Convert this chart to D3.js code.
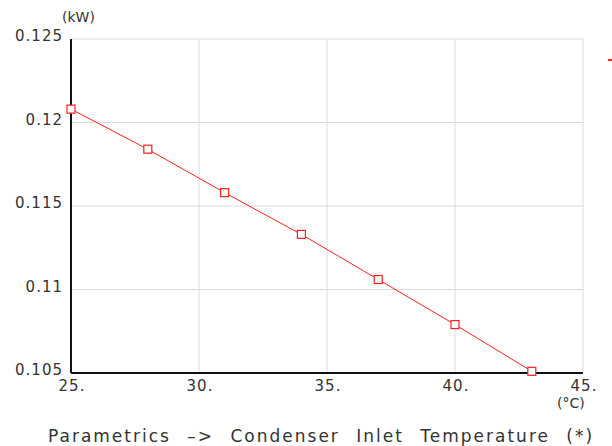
<!DOCTYPE html>
<html>
<head>
<meta charset="utf-8">
<script src="https://cdn.jsdelivr.net/npm/d3@7"></script>
<style>
  body { margin: 0; background: #fff; }
  text { font-family: "DejaVu Sans", sans-serif; fill: #333; }
</style>
</head>
<body>
<div id="chart"></div>
<script>
// condenser inlet temperature (°C) vs power (kW)
const temps = [25, 28, 31, 34, 37, 40, 43];
const power = [0.1208, 0.1184, 0.1158, 0.1133, 0.1106, 0.1079, 0.1051];
const xTicks = [25, 30, 35, 40, 45];
const yTicks = [0.105, 0.11, 0.115, 0.12, 0.125];

const W = 612, H = 446;
const margin = {top: 39, right: 29, bottom: 73, left: 71};
const width = W - margin.left - margin.right,
    height = H - margin.top - margin.bottom;

var svg = d3.select("#chart").append("svg")
    .attr("width", W)
    .attr("height", H);

var g = svg.append("g").attr("transform", "translate(" + margin.left + "," + margin.top + ")");

var x = d3.scaleLinear().domain([25, 45]).range([0, width]);
var y = d3.scaleLinear().domain([0.105, 0.125]).range([height, 0]);

// grid
g.selectAll(".vgrid").data(xTicks.slice(1))
  .enter().append("line")
    .attr("x1", d => x(d)).attr("x2", d => x(d))
    .attr("y1", 0).attr("y2", height)
    .attr("stroke", "#dcdcdc").attr("stroke-width", 1);
g.selectAll(".hgrid").data(yTicks.slice(1))
  .enter().append("line")
    .attr("x1", 0).attr("x2", width)
    .attr("y1", d => y(d)).attr("y2", d => y(d))
    .attr("stroke", "#dcdcdc").attr("stroke-width", 1);

// axes lines
g.append("line").attr("x1", 0).attr("x2", 0).attr("y1", 0).attr("y2", height)
  .attr("stroke", "#111").attr("stroke-width", 2);
g.append("line").attr("x1", 0).attr("x2", width).attr("y1", height).attr("y2", height)
  .attr("stroke", "#111").attr("stroke-width", 2);

// tick labels
g.selectAll(".ylab").data(yTicks)
  .enter().append("text")
    .attr("x", -8)
    .attr("y", d => y(d) + 2)
    .attr("text-anchor", "end")
    .style("font-size", "15px")
    .style("letter-spacing", "1px")
    .text(d => d3.format(".3~f")(d));
g.selectAll(".xlab").data(xTicks)
  .enter().append("text")
    .attr("x", d => x(d) + 1)
    .attr("y", height + 18)
    .attr("text-anchor", "middle")
    .style("font-size", "15px")
    .style("letter-spacing", "1px")
    .text(d => d + ".");

// units
svg.append("text").attr("x", 62).attr("y", 22).style("font-size", "14px").text("(kW)");
svg.append("text").attr("x", 557).attr("y", 408).style("font-size", "14px").text("(°C)");

// line + markers
var line = d3.line().x((d, i) => x(temps[i])).y(d => y(d));
g.append("path").datum(power)
  .attr("d", line)
  .attr("fill", "none")
  .attr("stroke", "#ff2020")
  .attr("stroke-width", 1);

g.selectAll(".pt").data(power)
  .enter().append("rect")
    .attr("x", (d, i) => x(temps[i]) - 4)
    .attr("y", d => y(d) - 4)
    .attr("width", 8).attr("height", 8)
    .attr("fill", "#fff")
    .attr("stroke", "#ff2020")
    .attr("stroke-width", 1.2);

// clipped legend marker at the right edge
svg.append("rect").attr("x", 608).attr("y", 59).attr("width", 4).attr("height", 2).attr("fill", "#ff2020");

// title
svg.append("text")
  .attr("x", 48).attr("y", 442)
  .style("font-size", "17px")
  .style("letter-spacing", "2px")
  .style("word-spacing", "9px")
  .text("Parametrics –> Condenser Inlet Temperature (*)");
</script>
</body>
</html>
